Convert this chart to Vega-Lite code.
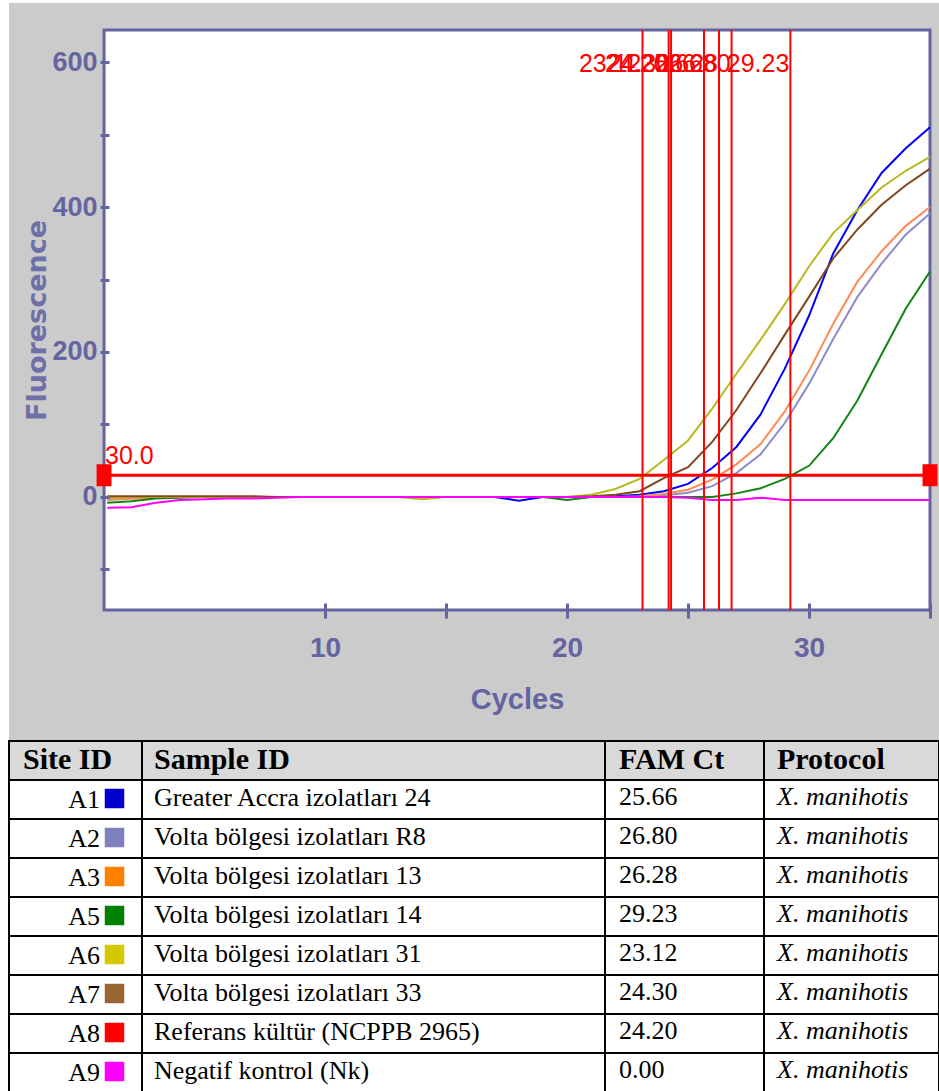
{
  "$schema": "https://vega.github.io/schema/vega-lite/v6.json",
  "padding": {"left": 8, "top": 3, "right": 0, "bottom": 0},
  "background": "white",
  "spacing": 0,
  "resolve": {"scale": {"color": "independent", "fill": "independent"}},
  "config": {"view": {"stroke": null}},
  "datasets": {
    "curves": [
      {"cycle": 1, "A1": -2, "A2": -4, "A3": -3, "A5": -8, "A6": -1, "A7": 1, "A9": -15},
      {"cycle": 2, "A1": -1, "A2": -2, "A3": -2, "A5": -6, "A6": 0, "A7": 1, "A9": -14},
      {"cycle": 3, "A1": 0, "A2": -1, "A3": -1, "A5": -2, "A6": 0, "A7": 1, "A9": -8},
      {"cycle": 4, "A1": 0, "A2": 0, "A3": 0, "A5": -1, "A6": 0, "A7": 1, "A9": -4},
      {"cycle": 5, "A1": 0, "A2": 0, "A3": 0, "A5": 0, "A6": 0, "A7": 1, "A9": -3},
      {"cycle": 6, "A1": 0, "A2": 0, "A3": 0, "A5": 0, "A6": 0, "A7": 1, "A9": -2},
      {"cycle": 7, "A1": 0, "A2": 0, "A3": 0, "A5": 0, "A6": 0, "A7": 1, "A9": -2},
      {"cycle": 8, "A1": 0, "A2": 0, "A3": 0, "A5": 0, "A6": 0, "A7": 0, "A9": -1},
      {"cycle": 9, "A1": 0, "A2": 0, "A3": 0, "A5": 0, "A6": 0, "A7": 0, "A9": 0},
      {"cycle": 10, "A1": 0, "A2": 0, "A3": 0, "A5": 0, "A6": 0, "A7": 0, "A9": 0},
      {"cycle": 11, "A1": 0, "A2": 0, "A3": 0, "A5": 0, "A6": 0, "A7": 0, "A9": 0},
      {"cycle": 12, "A1": 0, "A2": 0, "A3": 0, "A5": 0, "A6": 0, "A7": 0, "A9": 0},
      {"cycle": 13, "A1": 0, "A2": 0, "A3": 0, "A5": 0, "A6": 0, "A7": 0, "A9": 0},
      {"cycle": 14, "A1": 0, "A2": 0, "A3": 0, "A5": 0, "A6": -3, "A7": 0, "A9": 0},
      {"cycle": 15, "A1": 0, "A2": 0, "A3": 0, "A5": 0, "A6": 0, "A7": 0, "A9": 0},
      {"cycle": 16, "A1": 0, "A2": 0, "A3": 0, "A5": 0, "A6": 0, "A7": 0, "A9": 0},
      {"cycle": 17, "A1": 0, "A2": 0, "A3": 0, "A5": 0, "A6": 0, "A7": 0, "A9": 0},
      {"cycle": 18, "A1": -5, "A2": 0, "A3": 0, "A5": 0, "A6": 0, "A7": 0, "A9": 0},
      {"cycle": 19, "A1": 0, "A2": 0, "A3": 0, "A5": 0, "A6": 0, "A7": 0, "A9": 0},
      {"cycle": 20, "A1": 0, "A2": 0, "A3": 0, "A5": -4, "A6": 0, "A7": 0, "A9": 0},
      {"cycle": 21, "A1": 0, "A2": 0, "A3": 0, "A5": 0, "A6": 3, "A7": 1, "A9": 0},
      {"cycle": 22, "A1": 1, "A2": 0, "A3": 0, "A5": 0, "A6": 11, "A7": 3, "A9": 0},
      {"cycle": 23, "A1": 3, "A2": 0, "A3": 1, "A5": 0, "A6": 25, "A7": 8, "A9": 0},
      {"cycle": 24, "A1": 8, "A2": 2, "A3": 4, "A5": 0, "A6": 51, "A7": 26, "A9": 0},
      {"cycle": 25, "A1": 18, "A2": 6, "A3": 10, "A5": 0, "A6": 78, "A7": 41, "A9": -1},
      {"cycle": 26, "A1": 40, "A2": 15, "A3": 24, "A5": 0, "A6": 122, "A7": 76, "A9": -4},
      {"cycle": 27, "A1": 69, "A2": 33, "A3": 45, "A5": 5, "A6": 170, "A7": 120, "A9": -4},
      {"cycle": 28, "A1": 114, "A2": 59, "A3": 73, "A5": 12, "A6": 217, "A7": 171, "A9": -1},
      {"cycle": 29, "A1": 177, "A2": 102, "A3": 118, "A5": 25, "A6": 266, "A7": 224, "A9": -4},
      {"cycle": 30, "A1": 250, "A2": 156, "A3": 174, "A5": 43, "A6": 318, "A7": 276, "A9": -4},
      {"cycle": 31, "A1": 336, "A2": 218, "A3": 239, "A5": 81, "A6": 364, "A7": 329, "A9": -4},
      {"cycle": 32, "A1": 396, "A2": 276, "A3": 297, "A5": 133, "A6": 396, "A7": 369, "A9": -4},
      {"cycle": 33, "A1": 447, "A2": 322, "A3": 339, "A5": 197, "A6": 427, "A7": 403, "A9": -4},
      {"cycle": 34, "A1": 481, "A2": 362, "A3": 374, "A5": 260, "A6": 450, "A7": 430, "A9": -4},
      {"cycle": 35, "A1": 510, "A2": 391, "A3": 400, "A5": 311, "A6": 469, "A7": 453, "A9": -4}
    ],
    "table": [
      {"site": "A1", "sample": "Greater Accra izolatları 24", "ct": 25.66, "prot": "X. manihotis"},
      {"site": "A2", "sample": "Volta bölgesi izolatları R8", "ct": 26.80, "prot": "X. manihotis"},
      {"site": "A3", "sample": "Volta bölgesi izolatları 13", "ct": 26.28, "prot": "X. manihotis"},
      {"site": "A5", "sample": "Volta bölgesi izolatları 14", "ct": 29.23, "prot": "X. manihotis"},
      {"site": "A6", "sample": "Volta bölgesi izolatları 31", "ct": 23.12, "prot": "X. manihotis"},
      {"site": "A7", "sample": "Volta bölgesi izolatları 33", "ct": 24.30, "prot": "X. manihotis"},
      {"site": "A8", "sample": "Referans  kültür (NCPPB 2965)", "ct": 24.20, "prot": "X. manihotis"},
      {"site": "A9", "sample": "Negatif kontrol (Nk)", "ct": 0.00, "prot": "X. manihotis"}
    ],
    "header": [
      {"k": "H", "h1": "Site ID", "h2": "Sample ID", "h3": "FAM Ct", "h4": "Protocol"}
    ]
  },
  "vconcat": [
    {
      "width": 930,
      "height": 737,
      "view": {"fill": "#cbcbcb", "stroke": null},
      "layer": [
        {
          "data": {"values": [{}]},
          "mark": {"type": "rect", "fill": "white", "stroke": "#6464a0", "strokeWidth": 3},
          "encoding": {
            "x": {"datum": 0.868, "type": "quantitative"},
            "x2": {"datum": 35},
            "y": {"datum": 644.1, "type": "quantitative"},
            "y2": {"datum": -155.9}
          }
        },
        {
          "data": {"name": "curves"},
          "transform": [{"fold": ["A1", "A2", "A3", "A5", "A6", "A7", "A9"], "as": ["sample", "fluor"]}],
          "mark": {"type": "line", "strokeWidth": 2},
          "encoding": {
            "x": {
              "field": "cycle", "type": "quantitative",
              "scale": {"domain": [-3.06, 35.372], "nice": false, "zero": false},
              "axis": {
                "title": "Cycles", "values": [10, 15, 20, 25, 30, 35],
                "labelExpr": "datum.value % 10 == 0 ? datum.label : ''",
                "offset": -137, "domain": false,
                "grid": false, "zindex": 1,
                "tickColor": "#6464a0", "tickWidth": 3, "tickSize": 15,
                "labelFont": "Liberation Sans",
                "labelFontSize": 28, "labelFontWeight": "bold", "labelColor": "#6464a0",
                "labelPadding": 16, "labelFlush": false, "labelOverlap": false,
                "titleFont": "Liberation Sans",
                "titleFontSize": 29, "titleFontWeight": "bold", "titleColor": "#6464a0",
                "titlePadding": 23, "titleX": 508
              }
            },
            "y": {
              "field": "fluor", "type": "quantitative",
              "scale": {"domain": [-335.2, 681.4], "nice": false, "zero": false},
              "axis": {
                "title": "Fluorescence", "values": [-100, 0, 100, 200, 300, 400, 500, 600],
                "labelExpr": "datum.value % 200 == 0 ? datum.label : ''",
                "format": "d",
                "offset": -100, "domain": false,
                "grid": false, "zindex": 1,
                "tickColor": "#6464a0", "tickWidth": 3, "tickSize": 9,
                "labelFont": "Liberation Sans",
                "labelFontSize": 27, "labelFontWeight": "bold", "labelColor": "#6464a0",
                "labelPadding": 3, "labelFlush": false, "labelOverlap": false,
                "titleFont": "DejaVu Sans", "titleFontSize": 27, "titleFontWeight": "bold",
                "titleColor": "#7070a8", "titlePadding": 0, "titleY": 317
              }
            },
            "color": {
              "field": "sample", "type": "nominal",
              "scale": {
                "domain": ["A1", "A2", "A3", "A5", "A6", "A7", "A9"],
                "range": ["#0000ff", "#8c8cc8", "#ff8a55", "#128412", "#b8b820", "#82461e", "#ff00ff"]
              },
              "legend": null
            }
          }
        },
        {
          "data": {"name": "table"},
          "transform": [{"filter": "datum.ct > 0"}],
          "mark": {"type": "rule", "color": "#ff0000", "strokeWidth": 2},
          "encoding": {
            "x": {"field": "ct", "type": "quantitative"},
            "y": {"datum": -155.9, "type": "quantitative"},
            "y2": {"datum": 644.1}
          }
        },
        {
          "data": {"values": [{"threshold": 30}]},
          "mark": {"type": "rule", "color": "#ff0000", "strokeWidth": 3},
          "encoding": {
            "y": {"field": "threshold", "type": "quantitative"},
            "x": {"datum": 0.868, "type": "quantitative"},
            "x2": {"datum": 35}
          }
        },
        {
          "data": {"name": "table"},
          "transform": [{"filter": "datum.ct > 0"}],
          "mark": {
            "type": "text", "align": "right", "baseline": "alphabetic", "dx": -1,
            "font": "Liberation Sans", "fontSize": 25, "color": "#ff0000"
          },
          "encoding": {
            "x": {"field": "ct", "type": "quantitative"},
            "y": {"datum": 586, "type": "quantitative"},
            "text": {"field": "ct", "format": ".2f"}
          }
        },
        {
          "data": {"values": [{"threshold": 30}]},
          "mark": {
            "type": "text", "align": "left", "baseline": "alphabetic", "dx": 1, "dy": -11,
            "font": "Liberation Sans", "fontSize": 25, "color": "#ff0000"
          },
          "encoding": {
            "x": {"datum": 0.868, "type": "quantitative"},
            "y": {"field": "threshold", "type": "quantitative"},
            "text": {"field": "threshold", "format": ".1f"}
          }
        },
        {
          "data": {"values": [{"threshold": 30}]},
          "mark": {"type": "point", "shape": "M-0.68,-1H0.68V1H-0.68Z", "size": 484, "filled": true, "color": "#ff0000", "opacity": 1},
          "encoding": {
            "x": {"datum": 0.868, "type": "quantitative"},
            "y": {"field": "threshold", "type": "quantitative"}
          }
        },
        {
          "data": {"values": [{"threshold": 30}]},
          "mark": {"type": "point", "shape": "M-0.68,-1H0.68V1H-0.68Z", "size": 484, "filled": true, "color": "#ff0000", "opacity": 1},
          "encoding": {
            "x": {"datum": 35, "type": "quantitative"},
            "y": {"field": "threshold", "type": "quantitative"}
          }
        }
      ]
    },
    {
      "hconcat": [
        {
          "width": 133, "height": 351,
          "layer": [
            {
              "data": {"name": "table"},
              "mark": {"type": "rect", "fill": "white", "stroke": "black", "strokeWidth": 2},
              "encoding": {"y": {"field": "site", "type": "nominal", "scale": {"domain": ["H", "A1", "A2", "A3", "A5", "A6", "A7", "A8", "A9"], "paddingInner": 0, "paddingOuter": 0}, "axis": null}}
            },
            {
              "data": {"name": "header"},
              "mark": {"type": "rect", "fill": "#d9d9d9", "stroke": "black", "strokeWidth": 2},
              "encoding": {"y": {"field": "k", "type": "nominal", "axis": null}}
            },
            {
              "data": {"name": "header"},
              "mark": {"type": "text", "align": "left", "baseline": "alphabetic", "dx": -52.5, "dy": 8, "font": "Liberation Serif", "fontSize": 30, "fontWeight": "bold", "color": "black"},
              "encoding": {"y": {"field": "k", "type": "nominal", "axis": null}, "text": {"field": "h1"}}
            },
            {
              "data": {"name": "table"},
              "mark": {"type": "text", "align": "right", "baseline": "alphabetic", "dx": 24.5, "dy": 8, "font": "Liberation Serif", "fontSize": 26, "color": "black"},
              "encoding": {"y": {"field": "site", "type": "nominal", "axis": null}, "text": {"field": "site"}}
            },
            {
              "data": {"name": "table"},
              "mark": {"type": "point", "shape": "square", "filled": true, "size": 380, "xOffset": 39, "yOffset": -1, "opacity": 1},
              "encoding": {
                "y": {"field": "site", "type": "nominal", "axis": null},
                "fill": {
                  "field": "site", "type": "nominal",
                  "scale": {"domain": ["A1", "A2", "A3", "A5", "A6", "A7", "A8", "A9"], "range": ["#0000cc", "#8080c0", "#ff8000", "#008000", "#d4c800", "#996633", "#ff0000", "#ff00ff"]},
                  "legend": null
                }
              }
            }
          ]
        },
        {
          "width": 463, "height": 351,
          "layer": [
            {
              "data": {"name": "table"},
              "mark": {"type": "rect", "fill": "white", "stroke": "black", "strokeWidth": 2},
              "encoding": {"y": {"field": "site", "type": "nominal", "scale": {"domain": ["H", "A1", "A2", "A3", "A5", "A6", "A7", "A8", "A9"], "paddingInner": 0, "paddingOuter": 0}, "axis": null}}
            },
            {
              "data": {"name": "header"},
              "mark": {"type": "rect", "fill": "#d9d9d9", "stroke": "black", "strokeWidth": 2},
              "encoding": {"y": {"field": "k", "type": "nominal", "axis": null}}
            },
            {
              "data": {"name": "header"},
              "mark": {"type": "text", "align": "left", "baseline": "alphabetic", "dx": -219.5, "dy": 8, "font": "Liberation Serif", "fontSize": 30, "fontWeight": "bold", "color": "black"},
              "encoding": {"y": {"field": "k", "type": "nominal", "axis": null}, "text": {"field": "h2"}}
            },
            {
              "data": {"name": "table"},
              "mark": {"type": "text", "align": "left", "baseline": "alphabetic", "dx": -219.5, "dy": 6, "font": "Liberation Serif", "fontSize": 26, "color": "black"},
              "encoding": {"y": {"field": "site", "type": "nominal", "axis": null}, "text": {"field": "sample"}}
            }
          ]
        },
        {
          "width": 159, "height": 351,
          "layer": [
            {
              "data": {"name": "table"},
              "mark": {"type": "rect", "fill": "white", "stroke": "black", "strokeWidth": 2},
              "encoding": {"y": {"field": "site", "type": "nominal", "scale": {"domain": ["H", "A1", "A2", "A3", "A5", "A6", "A7", "A8", "A9"], "paddingInner": 0, "paddingOuter": 0}, "axis": null}}
            },
            {
              "data": {"name": "header"},
              "mark": {"type": "rect", "fill": "#d9d9d9", "stroke": "black", "strokeWidth": 2},
              "encoding": {"y": {"field": "k", "type": "nominal", "axis": null}}
            },
            {
              "data": {"name": "header"},
              "mark": {"type": "text", "align": "left", "baseline": "alphabetic", "dx": -65.5, "dy": 8, "font": "Liberation Serif", "fontSize": 30, "fontWeight": "bold", "color": "black"},
              "encoding": {"y": {"field": "k", "type": "nominal", "axis": null}, "text": {"field": "h3"}}
            },
            {
              "data": {"name": "table"},
              "mark": {"type": "text", "align": "left", "baseline": "alphabetic", "dx": -65.5, "dy": 5, "font": "Liberation Serif", "fontSize": 26, "color": "black"},
              "encoding": {"y": {"field": "site", "type": "nominal", "axis": null}, "text": {"field": "ct", "format": ".2f"}}
            }
          ]
        },
        {
          "width": 175, "height": 351,
          "layer": [
            {
              "data": {"name": "table"},
              "mark": {"type": "rect", "fill": "white", "stroke": "black", "strokeWidth": 2},
              "encoding": {"y": {"field": "site", "type": "nominal", "scale": {"domain": ["H", "A1", "A2", "A3", "A5", "A6", "A7", "A8", "A9"], "paddingInner": 0, "paddingOuter": 0}, "axis": null}}
            },
            {
              "data": {"name": "header"},
              "mark": {"type": "rect", "fill": "#d9d9d9", "stroke": "black", "strokeWidth": 2},
              "encoding": {"y": {"field": "k", "type": "nominal", "axis": null}}
            },
            {
              "data": {"name": "header"},
              "mark": {"type": "text", "align": "left", "baseline": "alphabetic", "dx": -74.5, "dy": 8, "font": "Liberation Serif", "fontSize": 30, "fontWeight": "bold", "color": "black"},
              "encoding": {"y": {"field": "k", "type": "nominal", "axis": null}, "text": {"field": "h4"}}
            },
            {
              "data": {"name": "table"},
              "mark": {"type": "text", "align": "left", "baseline": "alphabetic", "dx": -74.5, "dy": 5, "font": "Liberation Serif", "fontSize": 26, "fontStyle": "italic", "color": "black"},
              "encoding": {"y": {"field": "site", "type": "nominal", "axis": null}, "text": {"field": "prot"}}
            }
          ]
        }
      ],
      "spacing": 0,
      "bounds": "flush"
    }
  ]
}
